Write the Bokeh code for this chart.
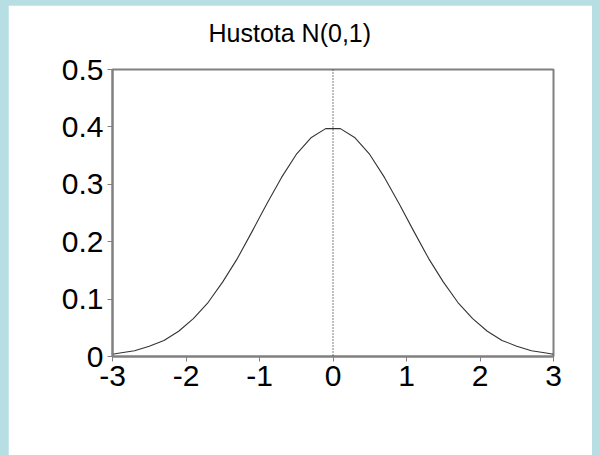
from bokeh.plotting import figure
from bokeh.models import Range1d, FixedTicker, Span, Title
from bokeh.layouts import column
from bokeh.embed import file_html
from bokeh.resources import INLINE

# Standard normal density, sampled along x
x_vals = [-3.0, -2.9, -2.7, -2.5, -2.3, -2.1, -1.9, -1.7, -1.5, -1.3, -1.1,
          -0.9, -0.7, -0.5, -0.3, -0.1, 0.1, 0.3, 0.5, 0.7, 0.9, 1.1, 1.3,
          1.5, 1.7, 1.9, 2.1, 2.3, 2.5, 2.7, 2.9, 3.0]
density = [0.004, 0.006, 0.010, 0.018, 0.028, 0.044, 0.066, 0.094, 0.130,
           0.171, 0.218, 0.266, 0.312, 0.352, 0.381, 0.397, 0.397, 0.381,
           0.352, 0.312, 0.266, 0.218, 0.171, 0.130, 0.094, 0.066, 0.044,
           0.028, 0.018, 0.010, 0.006, 0.004]

x_ticks = [-3, -2, -1, 0, 1, 2, 3]
x_tick_labels = ["-3", "-2", "-1", "0", "1", "2", "3"]
y_ticks = [0, 0.1, 0.2, 0.3, 0.4, 0.5]
y_tick_labels = ["0", "0.1", "0.2", "0.3", "0.4", "0.5"]
title_text = "Hustota N(0,1)"

BLUE = "#B7DFE3"
AXIS_GRAY = "#808080"
FONT = "Liberation Sans"

p = figure(
    width=584, height=450,
    x_range=Range1d(-3, 3), y_range=Range1d(0, 0.5),
    output_backend="svg", toolbar_location=None,
    min_border_left=104, min_border_right=39,
    min_border_top=64, min_border_bottom=99,
    background_fill_color="white", border_fill_color="white",
)
p.margin = (5, 8, 0, 8)

# blank spacer panel between the frame and the title
p.add_layout(Title(text=" ", text_font_size="1px", standoff=20), "above")

p.title.text = title_text
p.title.text_font = FONT
p.title.text_font_size = "25px"
p.title.text_font_style = "normal"
p.title.text_color = "black"
p.title.align = "left"
p.title.offset = 96
p.title.standoff = 0

p.grid.visible = False
p.outline_line_color = AXIS_GRAY
p.outline_line_width = 2

for ax in (p.xaxis[0], p.yaxis[0]):
    ax.axis_line_color = AXIS_GRAY
    ax.axis_line_width = 2
    ax.major_tick_line_color = AXIS_GRAY
    ax.major_tick_line_width = 1
    ax.major_tick_out = 5
    ax.major_tick_in = 0
    ax.minor_tick_line_color = None
    ax.major_label_text_font = FONT
    ax.major_label_text_font_size = "30px"
    ax.major_label_text_color = "black"
    ax.major_label_standoff = 4

p.xaxis[0].ticker = FixedTicker(ticks=x_ticks)
p.xaxis[0].major_label_overrides = {t: s for t, s in zip(x_ticks, x_tick_labels)}
p.yaxis[0].ticker = FixedTicker(ticks=y_ticks)
p.yaxis[0].major_label_overrides = {t: s for t, s in zip(y_ticks, y_tick_labels)}

# dotted reference line at the mean
p.add_layout(Span(location=0, dimension="height", line_color="black",
                  line_width=1, line_dash="1 2"))

p.line(x_vals, density, line_color="#333333", line_width=1.1)

root = column(p, styles={"background-color": BLUE})

open("out.html", "w").write(file_html(root, INLINE))
